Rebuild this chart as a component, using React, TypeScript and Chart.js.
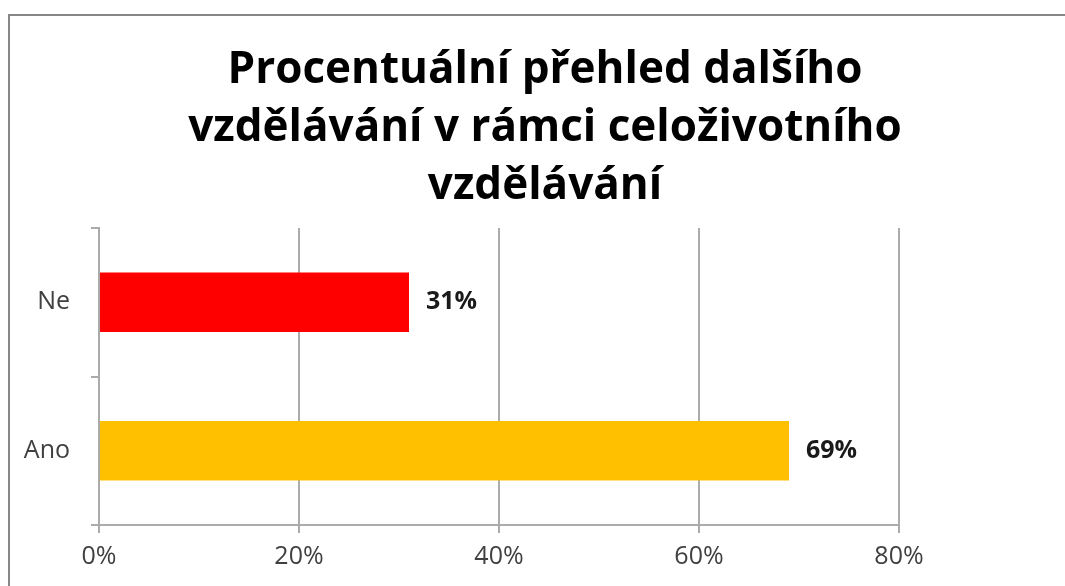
import React, { useEffect, useRef } from "react";
import { Chart, registerables } from "chart.js";

Chart.register(...registerables);

const categories = ["Ne", "Ano"];
const values = [31, 69];
const barColors = ["#FF0000", "#FFC000"];
const xTicks = [0, 20, 40, 60, 80];
const titleLines = [
  "Procentuální přehled dalšího",
  "vzdělávání v rámci celoživotního",
  "vzdělávání",
];

const framePlugin = {
  id: "frame",
  beforeDraw(chart: any) {
    const ctx = chart.ctx;
    ctx.save();
    ctx.fillStyle = "#ffffff";
    ctx.fillRect(0, 0, chart.width, chart.height);
    ctx.strokeStyle = "#878787";
    ctx.lineWidth = 2;
    ctx.strokeRect(9, 15, chart.width + 50, chart.height + 50);
    ctx.restore();
  },
};

const titlePlugin = {
  id: "centeredTitle",
  afterDraw(chart: any) {
    const ctx = chart.ctx;
    ctx.save();
    ctx.font = "bold 44px 'Open Sans'";
    ctx.fillStyle = "#000000";
    ctx.textAlign = "center";
    ctx.textBaseline = "alphabetic";
    const baselines = [83, 141, 199];
    titleLines.forEach((line, i) => ctx.fillText(line, 545, baselines[i]));
    ctx.restore();
  },
};

const labelPlugin = {
  id: "barLabels",
  afterDatasetsDraw(chart: any) {
    const ctx = chart.ctx;
    const meta = chart.getDatasetMeta(0);
    ctx.save();
    ctx.font = "bold 25px 'Open Sans'";
    ctx.fillStyle = "#1a1a1a";
    ctx.textAlign = "left";
    ctx.textBaseline = "middle";
    meta.data.forEach((bar: any, i: number) => {
      ctx.fillText(values[i] + "%", bar.x + 17, bar.y);
    });
    ctx.restore();
  },
};

export default function App() {
  const ref = useRef<HTMLCanvasElement>(null);
  useEffect(() => {
    if (!ref.current) return;
    const chart = new Chart(ref.current, {
      type: "bar",
      data: {
        labels: categories,
        datasets: [
          {
            data: values,
            backgroundColor: barColors,
            borderWidth: 0,
            categoryPercentage: 0.8,
            barPercentage: 0.5,
          },
        ],
      },
      options: {
        indexAxis: "y",
        responsive: false,
        animation: false,
        layout: { padding: { left: 0, right: 166, top: 228, bottom: 0 } },
        plugins: {
          legend: { display: false },
          tooltip: { enabled: false },
          title: { display: false },
        },
        scales: {
          x: {
            type: "linear",
            min: xTicks[0],
            max: xTicks[xTicks.length - 1],
            afterBuildTicks(scale: any) {
              scale.ticks = xTicks.map((v) => ({ value: v }));
            },
            afterFit(scale: any) {
              scale.height = 61;
            },
            ticks: {
              callback: (v: any) => v + "%",
              color: "#404040",
              font: { family: "'Open Sans'", size: 25 },
              padding: 9,
            },
            grid: { color: "#ababab", lineWidth: 2, tickLength: 8 },
            border: { color: "#ababab", width: 2 },
          },
          y: {
            type: "category",
            offset: true,
            afterFit(scale: any) {
              scale.width = 99;
            },
            ticks: {
              color: "#404040",
              font: { family: "'Open Sans'", size: 25 },
              padding: 21,
            },
            grid: {
              offset: true,
              drawOnChartArea: false,
              color: "#ababab",
              lineWidth: 2,
              tickLength: 8,
            },
            border: { color: "#ababab", width: 2 },
          },
        },
      },
      plugins: [framePlugin, labelPlugin, titlePlugin],
    } as any);
    return () => chart.destroy();
  }, []);
  return (
    <div style={{ position: "absolute", left: 0, top: 0, width: 1065, height: 586 }}>
      <canvas ref={ref} width={1065} height={586} style={{ display: "block" }} />
    </div>
  );
}
